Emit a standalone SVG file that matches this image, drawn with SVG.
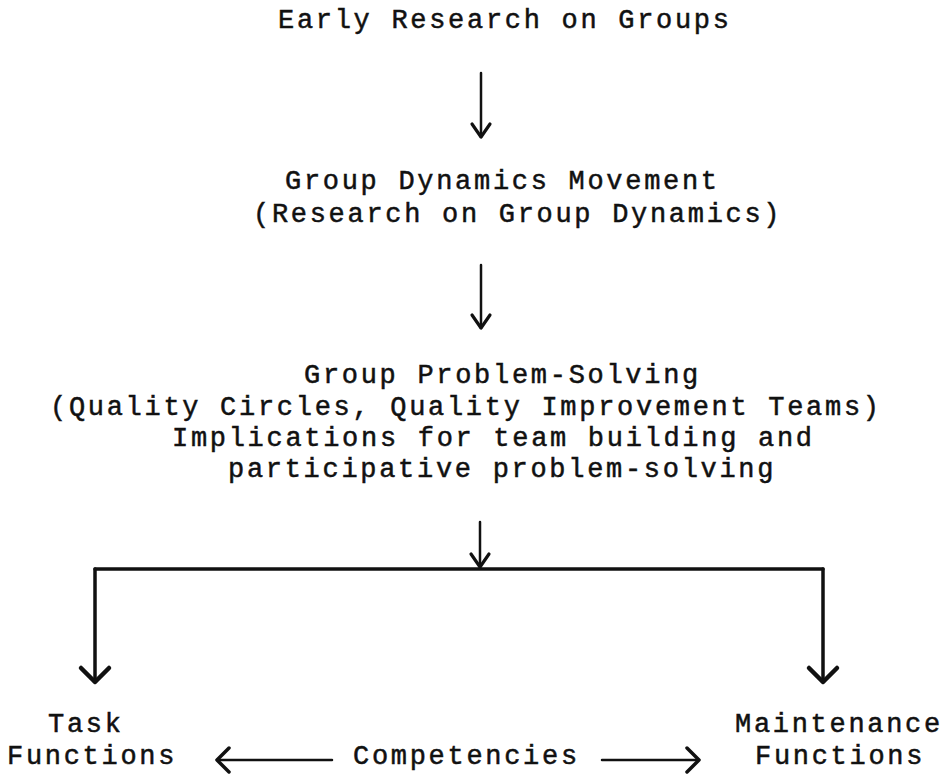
<svg xmlns="http://www.w3.org/2000/svg" width="950" height="775" viewBox="0 0 950 775">
  <style>
    text { font-family: "Liberation Mono", "Courier New", monospace; font-size: 27px; letter-spacing: 2.7px; fill: #111; stroke: #111; stroke-width: 0.5px; }
    .c { fill: none; stroke: #111; stroke-linecap: round; stroke-linejoin: round; }
    .thin { stroke-width: 2.5; }
    .thick { stroke-width: 3.5; }
  </style>
  <defs>
    <marker id="headS" markerUnits="userSpaceOnUse" orient="auto" refX="0" refY="0" overflow="visible" markerWidth="1" markerHeight="1">
      <path d="M-13,-9 L0,0 L-13,9" fill="none" stroke="#111" stroke-width="3.2" stroke-linecap="round" stroke-linejoin="round"/>
    </marker>
    <marker id="headL" markerUnits="userSpaceOnUse" orient="auto" refX="0" refY="0" overflow="visible" markerWidth="1" markerHeight="1">
      <path d="M-14,-14 L0,0 L-14,14" fill="none" stroke="#111" stroke-width="4.5" stroke-linecap="round" stroke-linejoin="round"/>
    </marker>
    <marker id="headM" markerUnits="userSpaceOnUse" orient="auto" refX="0" refY="0" overflow="visible" markerWidth="1" markerHeight="1">
      <path d="M-12,-12 L0,0 L-12,12" fill="none" stroke="#111" stroke-width="3.5" stroke-linecap="round" stroke-linejoin="round"/>
    </marker>
  </defs>

  <g id="n-early"><text x="278" y="28">Early Research on Groups</text></g>
  <g id="n-dynamics">
    <text x="285" y="189">Group Dynamics Movement</text>
    <text x="253" y="222">(Research on Group Dynamics)</text>
  </g>
  <g id="n-problem">
    <text x="304" y="383">Group Problem-Solving</text>
    <text x="50" y="415">(Quality Circles, Quality Improvement Teams)</text>
    <text x="172" y="446">Implications for team building and</text>
    <text x="228" y="477">participative problem-solving</text>
  </g>
  <g id="n-task">
    <text x="48" y="732">Task</text>
    <text x="7" y="764">Functions</text>
  </g>
  <g id="n-competencies"><text x="353" y="764">Competencies</text></g>
  <g id="n-maintenance">
    <text x="735" y="732">Maintenance</text>
    <text x="755" y="764">Functions</text>
  </g>

  <g id="connectors">
    <path class="c thin" d="M481,73 L481,137" marker-end="url(#headS)"/>
    <path class="c thin" d="M481,265 L481,328" marker-end="url(#headS)"/>
    <path class="c thin" d="M480,522 L480,567" marker-end="url(#headS)"/>
    <path class="c thick" d="M95,569 L823,569"/>
    <path class="c thick" d="M95,569 L95,682" marker-end="url(#headL)"/>
    <path class="c thick" d="M823,569 L823,682" marker-end="url(#headL)"/>
    <path class="c thin" d="M332,760 L217,760" marker-end="url(#headM)"/>
    <path class="c thin" d="M602,760 L699,760" marker-end="url(#headM)"/>
  </g>
</svg>
